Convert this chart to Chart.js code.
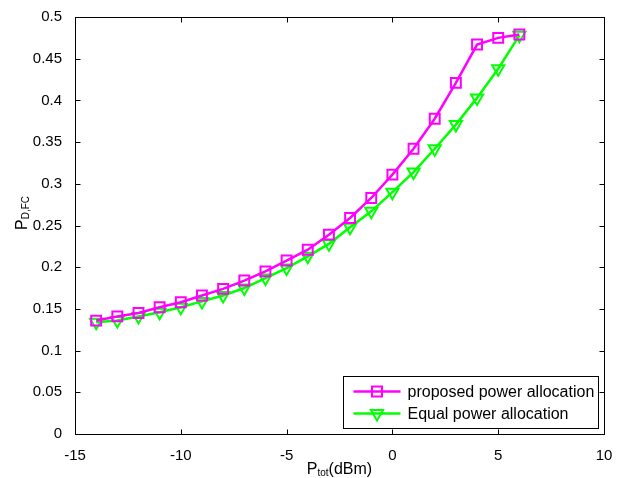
<!DOCTYPE html>
<html>
<head>
<meta charset="utf-8">
<script src="https://cdn.jsdelivr.net/npm/chart.js@4/dist/chart.umd.min.js"></script>
<style>
html,body{margin:0;padding:0;background:#fff;}
canvas{display:block;}
</style>
</head>
<body>
<canvas id="c" width="624" height="478"></canvas>
<script>
// ---- data ----
const ptot = [-14,-13,-12,-11,-10,-9,-8,-7,-6,-5,-4,-3,-2,-1,0,1,2,3,4,5,6];
const proposedPower = [0.136,0.141,0.145,0.152,0.158,0.166,0.174,0.184,0.195,0.208,0.221,0.239,0.259,0.283,0.311,0.342,0.378,0.421,0.467,0.475,0.479];
const equalPower    = [0.134,0.136,0.141,0.146,0.152,0.159,0.166,0.175,0.187,0.199,0.213,0.228,0.248,0.267,0.290,0.314,0.342,0.371,0.403,0.438,0.478];
const seriesNames = ['proposed power allocation','Equal power allocation'];
const xTickMin = -15, xTickMax = 10, xTickStep = 5;
const yTickMin = 0, yTickMax = 0.5, yTickStep = 0.05;
const xTitleMain = 'P', xTitleSub = 'tot', xTitleRest = '(dBm)';
const yTitleMain = 'P', yTitleSub = 'D,FC';

const FONT = '"Liberation Sans", Arial, Helvetica, sans-serif';
Chart.defaults.font.family = FONT;
Chart.defaults.color = '#000';

const MAGENTA = '#ff00ff', GREEN = '#00ff00';

function toPts(ys){ return ptot.map((x,i)=>({x:x, y:ys[i]})); }

const boxPlugin = {
  id: 'boxPlugin',
  afterDraw(chart){
    const ctx = chart.ctx, a = chart.chartArea;
    const xs = chart.scales.x, ys = chart.scales.y;
    ctx.save();
    ctx.strokeStyle = '#000';
    ctx.lineWidth = 1;
    const L = Math.round(a.left)+0.5, R = Math.round(a.right)+0.5, T = Math.round(a.top)+0.5, B = Math.round(a.bottom)+0.5;
    ctx.strokeRect(L, T, R-L, B-T);
    const tl = 5;
    ctx.beginPath();
    xs.ticks.forEach(t=>{
      const px = Math.round(xs.getPixelForValue(t.value))+0.5;
      ctx.moveTo(px,B); ctx.lineTo(px,B-tl);
      ctx.moveTo(px,T); ctx.lineTo(px,T+tl);
    });
    ys.ticks.forEach(t=>{
      const py = Math.round(ys.getPixelForValue(t.value))+0.5;
      ctx.moveTo(L,py); ctx.lineTo(L+tl,py);
      ctx.moveTo(R,py); ctx.lineTo(R-tl,py);
    });
    ctx.stroke();

    // axis titles
    ctx.fillStyle = '#000';
    ctx.textBaseline = 'alphabetic';
    const mainF = '16px '+FONT, subF = '10px '+FONT;
    ctx.font = mainF; const wP = ctx.measureText(xTitleMain).width;
    const wR = ctx.measureText(xTitleRest).width;
    ctx.font = subF; const wS = ctx.measureText(xTitleSub).width;
    const total = wP+wS+wR;
    let x0 = (a.left+a.right)/2 - total/2;
    const yb = 474;
    ctx.font = mainF; ctx.textAlign='left'; ctx.fillText(xTitleMain, x0, yb);
    ctx.font = subF; ctx.fillText(xTitleSub, x0+wP, yb+2);
    ctx.font = mainF; ctx.fillText(xTitleRest, x0+wP+wS, yb);

    // y title rotated
    ctx.save();
    ctx.font = mainF; const wyP = ctx.measureText(yTitleMain).width;
    ctx.font = subF; const wyS = ctx.measureText(yTitleSub).width;
    ctx.translate(27, 213);
    ctx.rotate(-Math.PI/2);
    const y0 = -(wyP+wyS)/2;
    ctx.font = mainF; ctx.fillText(yTitleMain, y0, 0);
    ctx.font = subF; ctx.fillText(yTitleSub, y0+wyP, 2);
    ctx.restore();

    // legend
    const lw = 255, lh = 52;
    const lx = Math.round(a.right) - 6 - lw + 0.5, ly = Math.round(a.bottom) - 6 - lh + 0.5;
    ctx.fillStyle = '#fff';
    ctx.fillRect(lx, ly, lw, lh);
    ctx.strokeStyle = '#000'; ctx.lineWidth = 1;
    ctx.strokeRect(lx, ly, lw, lh);
    const rows = [ly+15, ly+37];
    const cols = [MAGENTA, GREEN];
    rows.forEach((ry,i)=>{
      ctx.strokeStyle = cols[i];
      ctx.lineWidth = 2.5;
      ctx.beginPath(); ctx.moveTo(lx+10, ry); ctx.lineTo(lx+57, ry); ctx.stroke();
      const mx = lx+33.5;
      ctx.lineWidth = 2;
      ctx.beginPath();
      if(i===0){
        ctx.rect(mx-5, ry-5, 10, 10);
      } else {
        const r = 7;
        ctx.moveTo(mx, ry + r);
        ctx.lineTo(mx - r*Math.sin(Math.PI/3), ry - r/2);
        ctx.lineTo(mx + r*Math.sin(Math.PI/3), ry - r/2);
        ctx.closePath();
      }
      ctx.stroke();
      ctx.fillStyle = '#000';
      ctx.font = mainF;
      ctx.textBaseline = 'middle';
      ctx.textAlign = 'left';
      ctx.fillText(seriesNames[i], lx+64, ry+1);
    });
    ctx.restore();
  }
};

new Chart(document.getElementById('c'), {
  type: 'line',
  data: {
    datasets: [
      {
        label: seriesNames[0],
        data: toPts(proposedPower),
        borderColor: MAGENTA,
        backgroundColor: 'transparent',
        borderWidth: 2.5,
        pointStyle: 'rect',
        pointRadius: 7,
        pointBorderWidth: 2,
        pointBorderColor: MAGENTA,
        pointBackgroundColor: 'transparent',
        tension: 0
      },
      {
        label: seriesNames[1],
        data: toPts(equalPower),
        borderColor: GREEN,
        backgroundColor: 'transparent',
        borderWidth: 2.5,
        pointStyle: 'triangle',
        pointRotation: 180,
        pointRadius: 7,
        pointBorderWidth: 2,
        pointBorderColor: GREEN,
        pointBackgroundColor: 'transparent',
        tension: 0
      }
    ]
  },
  options: {
    responsive: false,
    devicePixelRatio: 1,
    animation: false,
    events: [],
    layout: { padding: { left: 30, right: 20, top: 17, bottom: 0 } },
    plugins: { legend: { display: false }, tooltip: { enabled: false } },
    scales: {
      x: {
        type: 'linear',
        min: xTickMin, max: xTickMax,
        ticks: { stepSize: xTickStep, font: { size: 15 }, color: '#000', padding: 5, maxRotation: 0 },
        grid: { display: false },
        border: { display: false },
        afterFit(s){ s.height = 44; }
      },
      y: {
        type: 'linear',
        min: yTickMin, max: yTickMax,
        ticks: { stepSize: yTickStep, font: { size: 15 }, color: '#000', padding: 5,
          callback: v => String(Math.round(v*100)/100) },
        grid: { display: false },
        border: { display: false },
        afterFit(s){ s.width = 45; }
      }
    }
  },
  plugins: [boxPlugin]
});
</script>
</body>
</html>
